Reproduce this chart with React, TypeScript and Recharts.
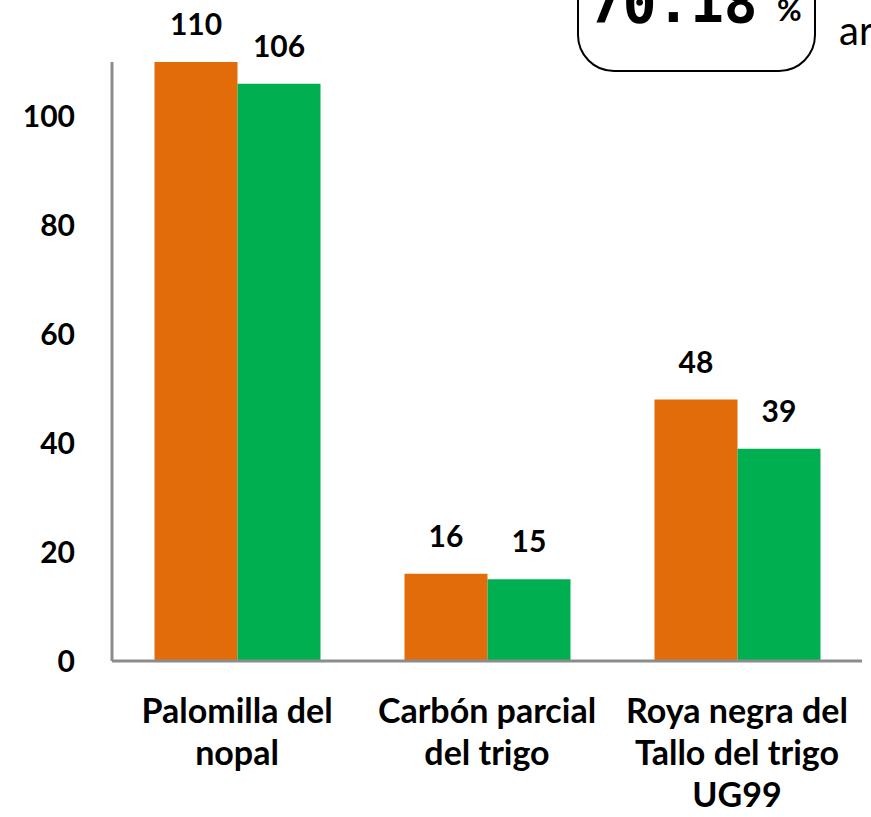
import React from "react";
import { BarChart, Bar, XAxis, YAxis, LabelList } from "recharts";

const categories = ["Palomilla del\nnopal", "Carbón parcial\ndel trigo", "Roya negra del\nTallo del trigo\nUG99"];
const seriesA = [110, 16, 48];
const seriesB = [106, 15, 39];
const yTicks = [0, 20, 40, 60, 80, 100];

const data = categories.map((c, i) => ({ name: c, a: seriesA[i], b: seriesB[i] }));

const FONT = "Lato, 'Open Sans', sans-serif";

const XTick = (props: any) => {
  const { x, y, payload } = props;
  const lines = String(payload.value).split("\n");
  return (
    <g>
      {lines.map((l: string, i: number) => (
        <text key={i} x={x} y={y + 54 + i * 42} textAnchor="middle" fontFamily={FONT} fontWeight={700} fontSize={34} fill="#000">
          {l}
        </text>
      ))}
    </g>
  );
};

export default function App() {
  return (
    <div style={{ position: "absolute", left: 0, top: 0, width: 871, height: 817, background: "#fff", overflow: "hidden" }}>
      <BarChart width={871} height={817} data={data} margin={{ top: 62, right: 9, bottom: 0, left: 0 }} barGap={0} barCategoryGap="17%">
        <XAxis dataKey="name" tick={<XTick />} tickLine={false} axisLine={{ stroke: "#8c8c8c", strokeWidth: 3 }} height={156} interval={0} />
        <YAxis domain={[0, 110]} ticks={yTicks} width={112} tickLine={false} tickSize={0} tickMargin={37} axisLine={{ stroke: "#8c8c8c", strokeWidth: 3 }} tick={{ fontFamily: FONT, fontWeight: 700, fontSize: 30, fill: "#000" }} />
        <Bar dataKey="a" fill="#E36C0A" isAnimationActive={false}>
          <LabelList dataKey="a" position="top" offset={27} style={{ fontFamily: FONT, fontWeight: 700, fontSize: 30, fill: "#000" }} />
        </Bar>
        <Bar dataKey="b" fill="#00B050" isAnimationActive={false}>
          <LabelList dataKey="b" position="top" offset={27} style={{ fontFamily: FONT, fontWeight: 700, fontSize: 30, fill: "#000" }} />
        </Bar>
      </BarChart>
      <svg width={871} height={817} style={{ position: "absolute", left: 0, top: 0, pointerEvents: "none" }}>
        <rect x={578} y={-60} width={237} height={131} rx={36} ry={36} fill="none" stroke="#000" strokeWidth={2} />
        <text x={589} y={22} fontFamily="'DejaVu Sans Mono', 'Liberation Mono', monospace" fontWeight={700} fontSize={56} fill="#000">70.18</text>
        <text x={777} y={21} fontFamily={FONT} fontWeight={700} fontSize={30} fill="#000">%</text>
        <text x={839} y={45} fontFamily={FONT} fontSize={40} fill="#000">ar</text>
      </svg>
    </div>
  );
}
